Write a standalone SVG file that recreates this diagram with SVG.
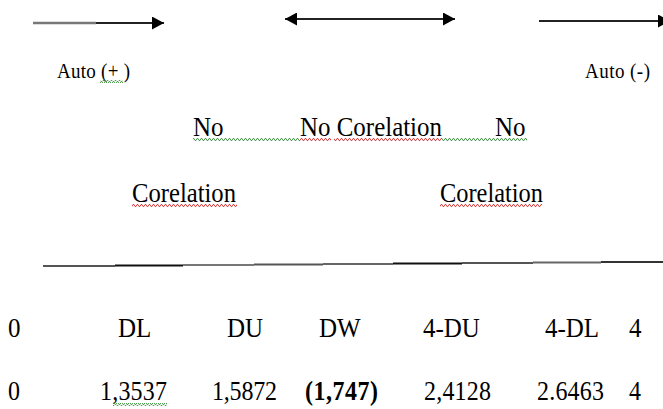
<svg xmlns="http://www.w3.org/2000/svg" width="663" height="409" viewBox="0 0 663 409">
<style>
text{font-family:"Liberation Serif","DejaVu Serif","Times New Roman",serif;fill:#000}
.s{font-size:19px}
.m{font-size:25px}
.r{font-size:24px}
.b{font-weight:bold}
.ln{stroke:#222;stroke-width:2;fill:none}
</style>
<defs>
<pattern id="wg" width="4" height="3" patternUnits="userSpaceOnUse">
<polyline points="0,2.5 1,0.5 2,0.5 3,2.5 4,2.5" fill="none" stroke="#3a9a3a" stroke-width="0.9"/>
</pattern>
<pattern id="wr" width="4" height="3" patternUnits="userSpaceOnUse">
<polyline points="0,2.5 1,0.5 2,0.5 3,2.5 4,2.5" fill="none" stroke="#e03030" stroke-width="0.9"/>
</pattern>
<marker id="ah" viewBox="0 0 12 13" refX="12" refY="6.5" markerWidth="12" markerHeight="13" markerUnits="userSpaceOnUse" orient="auto-start-reverse">
<path d="M0,0 L12,6.5 L0,13 Z" fill="#000"/>
</marker>
</defs>
<g id="connectors">
<line x1="33" y1="23" x2="96" y2="23" stroke="#777" stroke-width="2.5"/>
<line x1="96" y1="23" x2="164" y2="23" class="ln" marker-end="url(#ah)"/>
<line x1="285" y1="19" x2="455" y2="19" class="ln" marker-start="url(#ah)" marker-end="url(#ah)"/>
<line x1="539" y1="21" x2="670" y2="21" class="ln" marker-end="url(#ah)"/>
<g id="axis" stroke-width="2">
<line x1="43" y1="266" x2="115" y2="266" stroke="#555"/>
<line x1="115" y1="265.5" x2="183" y2="265.5" stroke="#111"/>
<line x1="183" y1="265" x2="254" y2="265" stroke="#777"/>
<line x1="254" y1="264.5" x2="323" y2="264.5" stroke="#555"/>
<line x1="323" y1="264" x2="393" y2="264" stroke="#666"/>
<line x1="393" y1="263.5" x2="462" y2="263.5" stroke="#111"/>
<line x1="462" y1="263" x2="533" y2="263" stroke="#555"/>
<line x1="533" y1="262.5" x2="601" y2="262.5" stroke="#666"/>
<line x1="601" y1="262" x2="663" y2="262" stroke="#333"/>
</g>
</g>
<g id="auto-pos">
<text class="s" transform="translate(57 78) scale(1 1.15)" textLength="73" lengthAdjust="spacing">Auto (+ )</text>
<rect x="100" y="80" width="23" height="3" fill="url(#wg)"/>
</g>
<g id="auto-neg">
<text class="s" transform="translate(585 78) scale(1 1.15)" textLength="65" lengthAdjust="spacing">Auto (-)</text>
</g>
<g id="no-corr-left">
<text class="m" transform="translate(193 136) scale(1 1.1)">No</text>
<text class="m" transform="translate(132 202) scale(1 1.1)" textLength="104" lengthAdjust="spacingAndGlyphs">Corelation</text>
<rect x="132" y="204" width="105" height="3" fill="url(#wr)"/>
</g>
<g id="no-corr-mid">
<text class="m" transform="translate(300 136) scale(1 1.1)" textLength="142" lengthAdjust="spacingAndGlyphs">No Corelation</text>
<rect x="193" y="138" width="107" height="3" fill="url(#wg)"/>
<rect x="300" y="138" width="31" height="3" fill="url(#wr)"/>
<rect x="334" y="138" width="108" height="3" fill="url(#wr)"/>
<rect x="442" y="138" width="85" height="3" fill="url(#wg)"/>
</g>
<g id="no-corr-right">
<text class="m" transform="translate(495 136) scale(1 1.1)">No</text>
<text class="m" transform="translate(440 202) scale(1 1.1)" textLength="103" lengthAdjust="spacingAndGlyphs">Corelation</text>
<rect x="440" y="204" width="102" height="3" fill="url(#wr)"/>
</g>
<g id="labels">
<text class="m" transform="translate(8 337) scale(1 1.1)">0</text>
<text class="m" transform="translate(118 337) scale(1 1.1)">DL</text>
<text class="m" transform="translate(227 337) scale(1 1.1)">DU</text>
<text class="m" transform="translate(319 337) scale(1 1.1)">DW</text>
<text class="m" transform="translate(423 337) scale(1 1.1)">4-DU</text>
<text class="m" transform="translate(545 337) scale(1 1.1)">4-DL</text>
<text class="m" transform="translate(629 337) scale(1 1.1)">4</text>
</g>
<g id="values">
<text class="r" transform="translate(8 400) scale(1 1.1)">0</text>
<text class="r" transform="translate(100 400) scale(1 1.1)" textLength="67" lengthAdjust="spacing">1,3537</text>
<rect x="113" y="403" width="54" height="3" fill="url(#wg)"/>
<text class="r" transform="translate(212 400) scale(1 1.1)" textLength="65" lengthAdjust="spacing">1,5872</text>
<text class="r b" transform="translate(305 400) scale(1 1.1)" textLength="73" lengthAdjust="spacing">(1,747)</text>
<text class="r" transform="translate(424 400) scale(1 1.1)" textLength="67" lengthAdjust="spacing">2,4128</text>
<text class="r" transform="translate(537 400) scale(1 1.1)" textLength="67" lengthAdjust="spacing">2.6463</text>
<text class="r" transform="translate(629 400) scale(1 1.1)">4</text>
</g>
</svg>
